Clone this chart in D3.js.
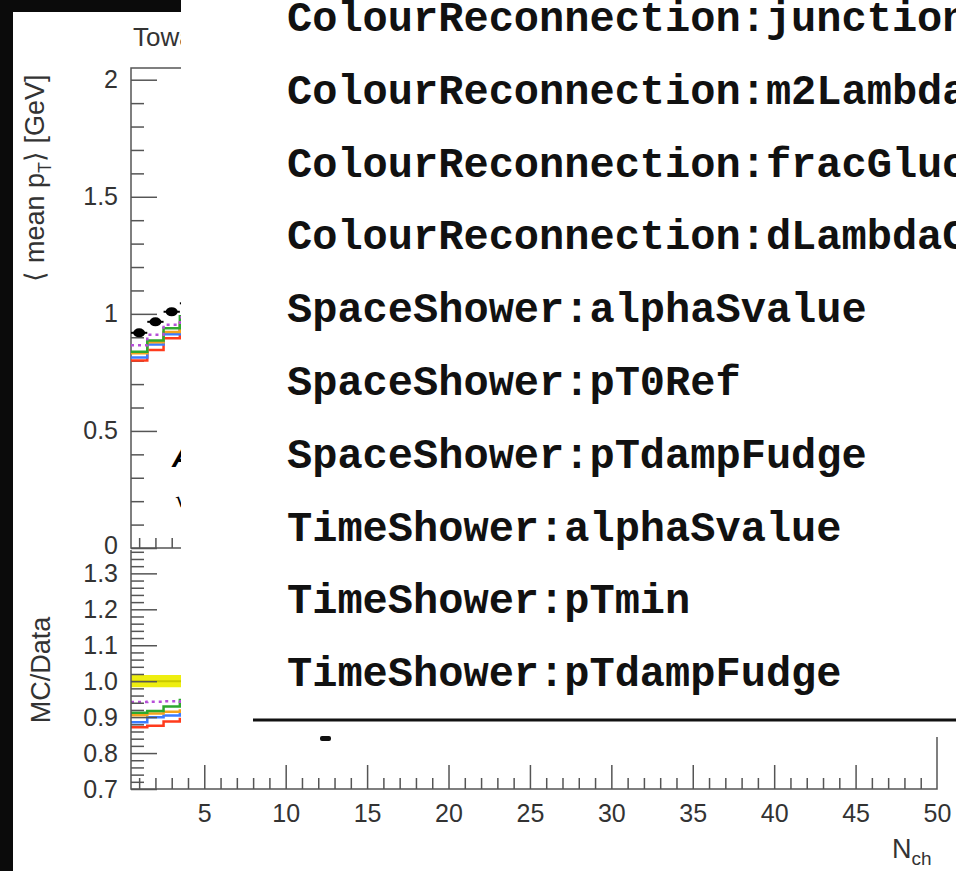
<!DOCTYPE html>
<html>
<head>
<meta charset="utf-8">
<script src="https://cdn.jsdelivr.net/npm/d3@7"></script>
<style>
  html, body { margin: 0; padding: 0; background: #0b0b0b; }
  #svg-container { width: 956px; height: 871px; }
  svg { display: block; }
  .lbl { font-family: "Liberation Sans", Arial, sans-serif; fill: #333; }
</style>
</head>
<body>
<div id="svg-container"></div>
<script>
////////////////////////////////////////////////////////////////////
////////////////////////////  Data  ////////////////////////////////

// N_ch bins (only the first few are not hidden behind the legend box)
const bins = [1, 2, 3, 4];
const dataMean = [0.919, 0.966, 1.009, 1.045];
const dataRelErr = [0.017, 0.017, 0.017, 0.017];

// MC curves, <mean pT> in GeV
const mcRed = [0.801, 0.846, 0.896, 0.935];
const mcBlue = [0.814, 0.869, 0.913, 0.95];
const mcOrange = [0.832, 0.879, 0.923, 0.96];
const mcGreen = [0.838, 0.886, 0.938, 0.99];
const mcPurple = [0.866, 0.911, 0.953, 0.985];

const mcSeries = [
  { values: mcRed, color: "#ff3b1c", dash: null },
  { values: mcBlue, color: "#3c7cff", dash: null },
  { values: mcOrange, color: "#f5a31e", dash: null },
  { values: mcGreen, color: "#2ea82e", dash: null },
  { values: mcPurple, color: "#b64fd8", dash: "3,4" },
];

// tick labels
const topTicks = [0, 0.5, 1, 1.5, 2];
const ratioTicks = [0.7, 0.8, 0.9, 1.0, 1.1, 1.2, 1.3];
const xTicks = [5, 10, 15, 20, 25, 30, 35, 40, 45, 50];

// legend entries
const legendNames = [
  "ColourReconnection:junctionCorrection",
  "ColourReconnection:m2Lambda",
  "ColourReconnection:fracGluon",
  "ColourReconnection:dLambdaCut",
  "SpaceShower:alphaSvalue",
  "SpaceShower:pT0Ref",
  "SpaceShower:pTdampFudge",
  "TimeShower:alphaSvalue",
  "TimeShower:pTmin",
  "TimeShower:pTdampFudge",
];

////////////////////////////////////////////////////////////////////
////////////////////////////  Init  ////////////////////////////////

const width = 956;
const height = 871;

const svg = d3
  .select("#svg-container")
  .append("svg")
  .attr("width", width)
  .attr("height", height);

// white page area (black border at left / top)
svg.append("rect")
  .attr("x", 13).attr("y", 12)
  .attr("width", width - 13).attr("height", height - 12)
  .attr("fill", "white");

// scales
const x = d3.scaleLinear().domain([0.5, 50]).range([131, 937]);
const yTop = d3.scaleLinear().domain([0, 2.05]).range([548, 68]);
const yRatio = d3.scaleLinear().domain([0.7, 1.365]).range([789, 550]);

const axisColor = "#555";

svg.append("clipPath").attr("id", "clipTop")
  .append("rect").attr("x", 131).attr("y", 68).attr("width", 806).attr("height", 480);
svg.append("clipPath").attr("id", "clipRatio")
  .append("rect").attr("x", 131).attr("y", 550).attr("width", 806).attr("height", 239);

// helper: histogram step points
const stepPoints = (vals, f) =>
  vals.flatMap((v, i) => [[bins[i] - 0.5, f(v, i)], [bins[i] + 0.5, f(v, i)]]);

const styleAxis = (g) => {
  g.selectAll("line").attr("stroke", axisColor).attr("stroke-width", 1.5);
  g.selectAll("path").attr("stroke", axisColor).attr("stroke-width", 1.5);
  g.selectAll("text")
    .attr("class", "lbl")
    .style("font-size", "25px")
    .attr("fill", "#333");
};

////////////////////////////////////////////////////////////////////
////////////////////////////  Upper panel  /////////////////////////

// frame
svg.append("path")
  .attr("d", `M${x(50)},${yTop(2.05)}H${x(0.5)}V${yTop(0)}H${x(50)}`)
  .attr("fill", "none").attr("stroke", axisColor).attr("stroke-width", 1.5);

const topMinor = d3.range(0, 2.05, 0.1).filter((v) => Math.abs(v * 2 - Math.round(v * 2)) > 0.01);
svg.append("g")
  .attr("transform", `translate(${x(0.5)},0)`)
  .call(d3.axisLeft(yTop).tickValues(topMinor).tickSize(-13).tickFormat(""))
  .call(styleAxis)
  .select(".domain").remove();
svg.append("g")
  .attr("transform", `translate(${x(0.5)},0)`)
  .call(d3.axisLeft(yTop).tickValues(topTicks).tickSize(-26).tickSizeOuter(0).tickPadding(13).tickFormat(d3.format("")))
  .call(styleAxis)
  .call((g) => g.selectAll(".tick text").filter((d) => d === 0).attr("dy", "0.2em"))
  .select(".domain").remove();

// bottom x ticks of upper panel
svg.append("g")
  .attr("transform", `translate(0,${yTop(0)})`)
  .call(d3.axisBottom(x).tickValues(d3.range(1, 51).filter((v) => v % 5)).tickSize(-10).tickFormat(""))
  .call(styleAxis)
  .select(".domain").remove();
svg.append("g")
  .attr("transform", `translate(0,${yTop(0)})`)
  .call(d3.axisBottom(x).tickValues(xTicks).tickSize(-20).tickFormat(""))
  .call(styleAxis)
  .select(".domain").remove();

const topPlot = svg.append("g").attr("clip-path", "url(#clipTop)");
const lineTop = d3.line().x((d) => x(d[0])).y((d) => yTop(d[1]));

topPlot.selectAll(".mc")
  .data(mcSeries)
  .enter()
  .append("path")
  .attr("d", (s) => lineTop(stepPoints(s.values, (v) => v)))
  .attr("fill", "none")
  .attr("stroke", (s) => s.color)
  .attr("stroke-width", 2.5)
  .attr("stroke-dasharray", (s) => s.dash);

// data points
topPlot.selectAll(".dbar")
  .data(dataMean)
  .enter()
  .append("line")
  .attr("x1", (d, i) => x(bins[i] - 0.5))
  .attr("x2", (d, i) => x(bins[i] + 0.5))
  .attr("y1", (d) => yTop(d))
  .attr("y2", (d) => yTop(d))
  .attr("stroke", "black")
  .attr("stroke-width", 2);
topPlot.selectAll(".dpt")
  .data(dataMean)
  .enter()
  .append("ellipse")
  .attr("cx", (d, i) => x(bins[i]))
  .attr("cy", (d) => yTop(d))
  .attr("rx", 6)
  .attr("ry", 4.5)
  .attr("fill", "black");

// labels inside the plot
svg.append("text")
  .attr("x", 172).attr("y", 467)
  .style("font-family", "Liberation Sans, Arial, sans-serif")
  .style("font-size", "29px").style("font-weight", "bold").style("font-style", "italic")
  .text("ATLAS");
svg.append("text")
  .attr("x", 175).attr("y", 507)
  .style("font-family", "DejaVu Sans, sans-serif")
  .style("font-size", "22px")
  .text("√s = 13 TeV");

// title
svg.append("text")
  .attr("class", "lbl")
  .attr("x", 133).attr("y", 46)
  .style("font-size", "26px")
  .text("Toward region");

// y title
const yTitle = svg.append("text")
  .attr("class", "lbl")
  .attr("transform", "translate(44,178) rotate(-90)")
  .attr("text-anchor", "middle")
  .style("font-size", "27px");
yTitle.append("tspan").text("⟨ mean p");
yTitle.append("tspan").attr("dy", 7).style("font-size", "18px").text("T");
yTitle.append("tspan").attr("dy", -7).text("⟩ [GeV]");

////////////////////////////////////////////////////////////////////
////////////////////////////  Ratio panel  /////////////////////////

const ratioPlot = svg.append("g").attr("clip-path", "url(#clipRatio)");

// data uncertainty band
const band = d3.area()
  .x((d) => x(d[0]))
  .y0((d) => yRatio(1 - d[1]))
  .y1((d) => yRatio(1 + d[1]));
ratioPlot.append("path")
  .attr("d", band(stepPoints(dataRelErr, (v) => v)))
  .attr("fill", "#eeee10");
ratioPlot.append("path")
  .attr("d", d3.line().x((d) => x(d[0])).y((d) => yRatio(d[1]))(stepPoints(dataMean, () => 1)))
  .attr("stroke", "#c9c900").attr("stroke-width", 2).attr("fill", "none");

const lineRatio = d3.line().x((d) => x(d[0])).y((d) => yRatio(d[1]));
ratioPlot.selectAll(".mcr")
  .data(mcSeries)
  .enter()
  .append("path")
  .attr("d", (s) => lineRatio(stepPoints(s.values, (v, i) => v / dataMean[i])))
  .attr("fill", "none")
  .attr("stroke", (s) => s.color)
  .attr("stroke-width", 2.5)
  .attr("stroke-dasharray", (s) => s.dash);

// frame
svg.append("path")
  .attr("d", `M${x(50)},${yRatio(1.365)}V${yRatio(0.7)}H${x(0.5)}V${yRatio(1.365)}`)
  .attr("fill", "none").attr("stroke", axisColor).attr("stroke-width", 1.5);

const ratioMinor = d3.range(0.72, 1.365, 0.02).filter((v) => Math.abs(v * 10 - Math.round(v * 10)) > 0.01);
svg.append("g")
  .attr("transform", `translate(${x(0.5)},0)`)
  .call(d3.axisLeft(yRatio).tickValues(ratioMinor).tickSize(-13).tickFormat(""))
  .call(styleAxis)
  .select(".domain").remove();
svg.append("g")
  .attr("transform", `translate(${x(0.5)},0)`)
  .call(d3.axisLeft(yRatio).tickValues(ratioTicks).tickSize(-26).tickPadding(13).tickFormat(d3.format(".1f")))
  .call(styleAxis)
  .select(".domain").remove();

svg.append("g")
  .attr("transform", `translate(0,${yRatio(0.7)})`)
  .call(d3.axisBottom(x).tickValues(d3.range(1, 50).filter((v) => v % 5)).tickSize(-11).tickFormat(""))
  .call(styleAxis)
  .select(".domain").remove();
svg.append("g")
  .attr("transform", `translate(0,${yRatio(0.7)})`)
  .call(d3.axisBottom(x).tickValues(xTicks).tickSize(-24).tickPadding(15))
  .call(styleAxis)
  .call((g) => g.selectAll(".tick line").filter((d) => d === 50).remove())
  .select(".domain").remove();

svg.append("text")
  .attr("class", "lbl")
  .attr("transform", "translate(50,670) rotate(-90)")
  .attr("text-anchor", "middle")
  .style("font-size", "27px")
  .text("MC/Data");

const xTitle = svg.append("text")
  .attr("class", "lbl")
  .attr("x", 892).attr("y", 858)
  .style("font-size", "27px");
xTitle.append("tspan").text("N");
xTitle.append("tspan").attr("dy", 7).style("font-size", "19px").text("ch");

////////////////////////////////////////////////////////////////////
////////////////////////////  Legend box overlay  //////////////////

const legend = svg.append("g");
legend.append("rect")
  .attr("x", 181).attr("y", 0)
  .attr("width", width - 181).attr("height", 737)
  .attr("fill", "white");

legend.selectAll(".entry")
  .data(legendNames)
  .enter()
  .append("text")
  .attr("x", 287)
  .attr("y", (d, i) => 31 + i * 72.8)
  .style("font-family", "'Liberation Mono', 'Courier New', monospace")
  .style("font-weight", "bold")
  .style("font-size", "42px")
  .attr("fill", "#111")
  .text((d) => d);

legend.append("line")
  .attr("x1", 253).attr("x2", width)
  .attr("y1", 720).attr("y2", 720)
  .attr("stroke", "#111").attr("stroke-width", 3);

// top of a cut-off glyph just below the legend box
legend.append("rect")
  .attr("x", 320).attr("y", 736)
  .attr("width", 11).attr("height", 5)
  .attr("rx", 2)
  .attr("fill", "#111");

// black strip above the plot, left of the box
svg.append("rect")
  .attr("x", 0).attr("y", 0)
  .attr("width", 181).attr("height", 12)
  .attr("fill", "#0b0b0b");
</script>
</body>
</html>
